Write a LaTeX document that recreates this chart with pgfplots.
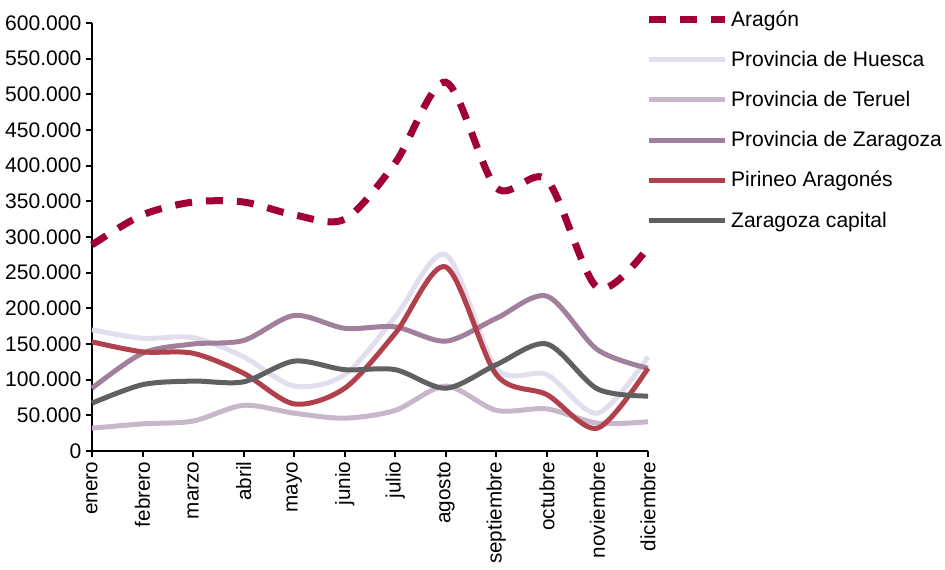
\documentclass[border=0pt]{standalone}
\usepackage{fontspec}
\setmainfont{Liberation Sans}
\usepackage{pgfplots}
\pgfplotsset{compat=1.18}
\definecolor{aragon}{HTML}{A00034}
\definecolor{huesca}{HTML}{E2DEEE}
\definecolor{teruel}{HTML}{C8B6CA}
\definecolor{zprov}{HTML}{A0809A}
\definecolor{pirineo}{HTML}{B0404C}
\definecolor{zcap}{HTML}{606062}
\begin{document}
\begin{tikzpicture}
\path[use as bounding box] (-69pt,-89.25pt) rectangle (639.75pt,338.25pt);
\begin{axis}[
  scale only axis,
  width=417pt, height=321pt,
  xmin=0, xmax=11, ymin=0, ymax=600000,
  axis x line*=bottom, axis y line*=left,
  axis line style={line width=1.5pt, -},
  xtick={0,...,11},
  xticklabels={enero,febrero,marzo,abril,mayo,junio,julio,agosto,septiembre,octubre,noviembre,diciembre},
  xticklabel style={rotate=90, anchor=east, font=\fontsize{15.5}{16}\selectfont},
  ytick={0,50000,100000,150000,200000,250000,300000,350000,400000,450000,500000,550000,600000},
  yticklabels={0,50.000,100.000,150.000,200.000,250.000,300.000,350.000,400.000,450.000,500.000,550.000,600.000},
  scaled y ticks=false,
  yticklabel style={font=\fontsize{15.8}{16}\selectfont},
  tick align=outside,
  major tick length=4.5pt,
  tick style={line width=1.5pt, black},
  clip=false,
  legend style={at={(0.995,1.035)}, anchor=north west, draw=none, fill=none,
    font=\fontsize{15.8}{17}\selectfont, row sep=13.1pt, inner sep=0pt,
    nodes={inner xsep=2pt}},
  legend cell align=left,
  legend image code/.code={\draw[#1] (0pt,0pt) -- (57pt,0pt);},
]
\addplot[aragon, line width=5.25pt, dash pattern=on 12.75pt off 10.5pt, smooth] coordinates {
(0,289000)(1,331000)(2,349000)(3,349000)(4,331000)(5,325000)(6,404000)(7,517000)(8,369000)(9,380000)(10,229000)(11,285000)};
\addlegendentry{Aragón}
\addplot[huesca, line width=3.75pt, smooth] coordinates {
(0,170000)(1,158000)(2,159000)(3,132000)(4,91000)(5,107000)(6,188000)(7,275000)(8,116000)(9,107000)(10,53000)(11,132000)};
\addlegendentry{Provincia de Huesca}
\addplot[teruel, line width=3.75pt, smooth] coordinates {
(0,32000)(1,38000)(2,42000)(3,64000)(4,53000)(5,46000)(6,57000)(7,91000)(8,57000)(9,59000)(10,39000)(11,41000)};
\addlegendentry{Provincia de Teruel}
\addplot[zprov, line width=3.75pt, smooth] coordinates {
(0,88000)(1,137000)(2,150000)(3,155000)(4,190000)(5,172000)(6,174000)(7,154000)(8,186000)(9,217000)(10,142000)(11,116000)};
\addlegendentry{Provincia de Zaragoza}
\addplot[pirineo, line width=3.75pt, smooth] coordinates {
(0,153000)(1,139000)(2,137000)(3,109000)(4,66000)(5,88000)(6,165000)(7,258000)(8,107000)(9,79000)(10,32000)(11,116000)};
\addlegendentry{Pirineo Aragonés}
\addplot[zcap, line width=3.75pt, smooth] coordinates {
(0,67000)(1,93000)(2,98000)(3,97000)(4,126000)(5,114000)(6,114000)(7,88000)(8,121000)(9,150000)(10,87000)(11,77000)};
\addlegendentry{Zaragoza capital}
\end{axis}
\end{tikzpicture}
\end{document}
